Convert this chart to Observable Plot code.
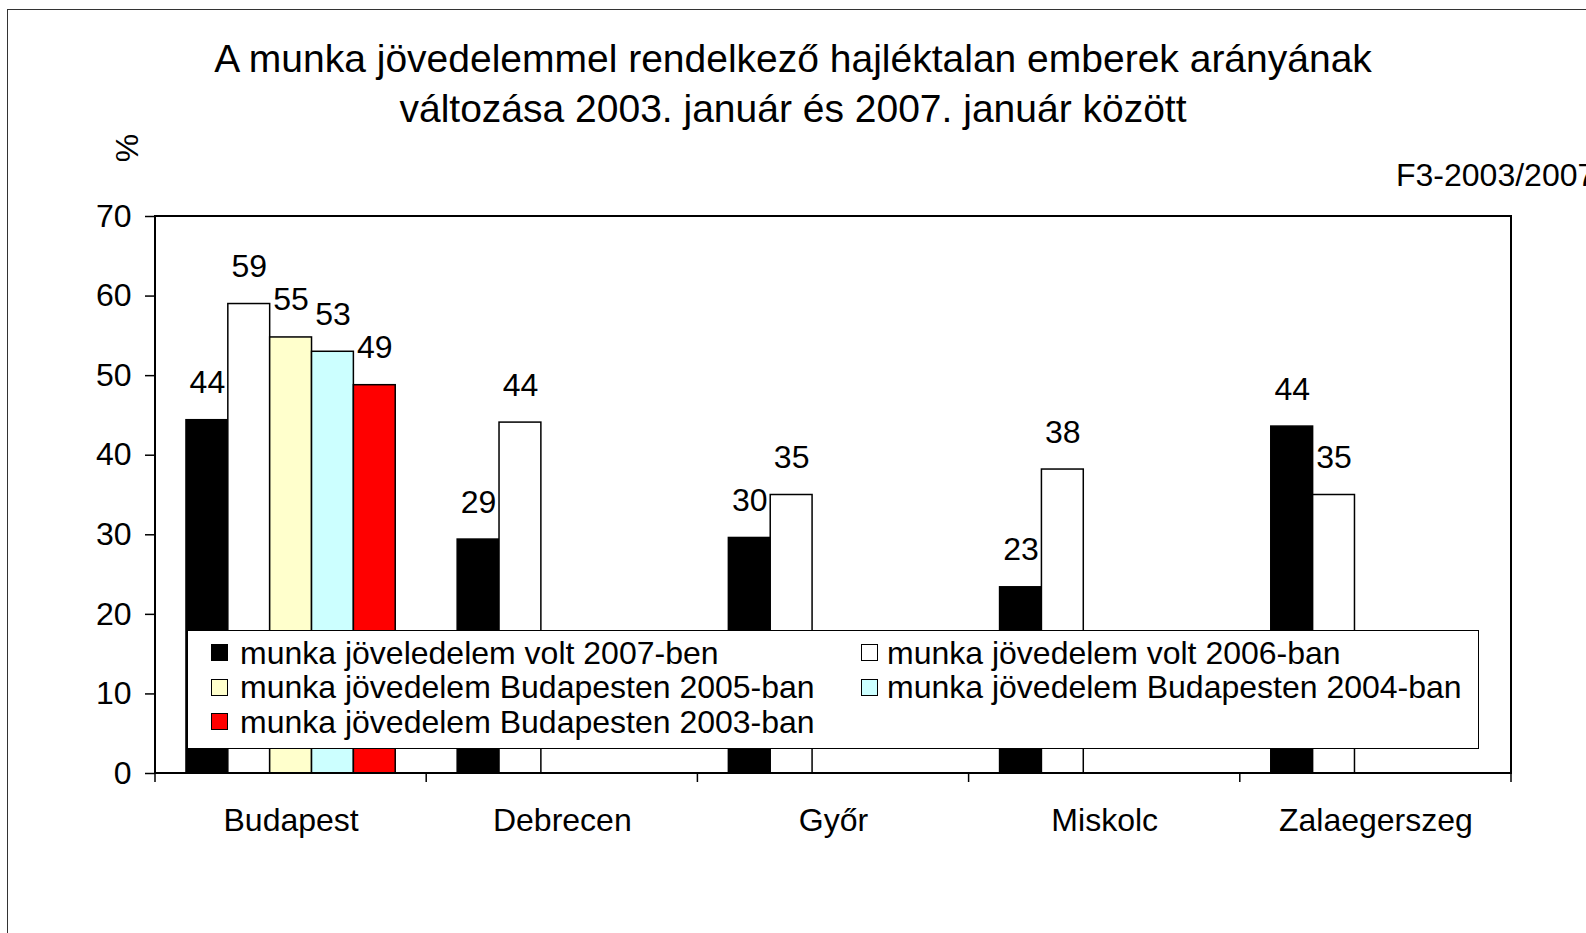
<!DOCTYPE html>
<html><head><meta charset="utf-8">
<script src="https://cdn.jsdelivr.net/npm/d3@7"></script>
<script src="https://cdn.jsdelivr.net/npm/@observablehq/plot@0.6"></script>
<style>
html,body{margin:0;padding:0;background:#fff;overflow:hidden;}
#wrap{position:relative;width:1586px;height:933px;overflow:hidden;font-family:"Liberation Sans",Arial,sans-serif;color:#000;}
.abs{position:absolute;white-space:nowrap;}
</style></head><body><div id="wrap"></div>
<script>
const titleLines = ["A munka jövedelemmel rendelkező hajléktalan emberek arányának",
                    "változása 2003. január és 2007. január között"];
const yLabel = "%";
const codeLabel = "F3-2003/2007";
const cities = ["Budapest", "Debrecen", "Győr", "Miskolc", "Zalaegerszeg"];
const series = ["munka jöveledelem volt 2007-ben",
                "munka jövedelem volt 2006-ban",
                "munka jövedelem Budapesten 2005-ban",
                "munka jövedelem Budapesten 2004-ban",
                "munka jövedelem Budapesten 2003-ban"];
const colors = ["#000000", "#ffffff", "#ffffcc", "#ccffff", "#ff0000"];
const v2007 = [44.4, 29.4, 29.6, 23.4, 43.6];
const v2006 = [59.0, 44.1, 35.0, 38.2, 35.0];
const v2005 = [54.8, null, null, null, null];
const v2004 = [53.0, null, null, null, null];
const v2003 = [48.8, null, null, null, null];
const yTicks = [0, 10, 20, 30, 40, 50, 60, 70];

const valueSets = [v2007, v2006, v2005, v2004, v2003];
const rows = [];
cities.forEach((c, ci) => valueSets.forEach((vs, si) => {
  if (vs[ci] != null) rows.push({city: c, series: series[si], value: vs[ci]});
}));
const fmt = d3.format(".0f");
const FONT = '"Liberation Sans", Arial, sans-serif';

const wrap = d3.select("#wrap");

const plot = Plot.plot({
  width: 1586, height: 933,
  marginLeft: 155, marginRight: 75, marginTop: 216, marginBottom: 160,
  style: {fontFamily: FONT, fontSize: "32px", background: "transparent", color: "#000", overflow: "visible"},
  fx: {domain: cities, padding: 0, round: false, label: null},
  x: {domain: series, paddingInner: 0, paddingOuter: 0.74, round: false, axis: null},
  y: {domain: [0, 70], label: null, axis: null},
  color: {domain: series, range: colors},
  marks: [
    Plot.axisY(yTicks, {tickSize: 10, tickPadding: 14, label: null, stroke: "#000", strokeWidth: 1.5}),
    Plot.axisFx({anchor: "bottom", tickSize: 0, tickPadding: 35, label: null}),
    Plot.barY(rows, {fx: "city", x: "series", y: "value", fill: "series", stroke: "#000", strokeWidth: 1.5}),
    Plot.text(rows, {fx: "city", x: "series", y: "value", text: d => fmt(d.value), lineAnchor: "bottom", dy: -27, fontSize: 32})
  ]
});
d3.select(plot).style("position", "absolute").style("left", "0px").style("top", "0px");
wrap.node().appendChild(plot);

// plot frame and category boundary ticks, from the library's scales
const fxS = plot.scale("fx"), yS = plot.scale("y");
const svg = d3.select(plot);
const x0 = fxS.apply(cities[0]);
const x1 = fxS.apply(cities[cities.length - 1]) + fxS.bandwidth;
const yTop = yS.apply(70), yBot = yS.apply(0);
svg.append("rect").attr("x", x0).attr("y", yTop).attr("width", x1 - x0).attr("height", yBot - yTop)
  .attr("fill", "none").attr("stroke", "#000").attr("stroke-width", 2);
const bounds = cities.map(c => fxS.apply(c)).concat([x1]);
svg.append("g").selectAll("line").data(bounds).join("line")
  .attr("x1", d => d).attr("x2", d => d).attr("y1", yBot).attr("y2", yBot + 9)
  .attr("stroke", "#000").attr("stroke-width", 1.5);

// outer border
wrap.append("div").attr("class", "abs")
  .style("left", "7px").style("top", "9px").style("width", "1700px").style("height", "1000px")
  .style("border", "1.5px solid #333").style("pointer-events", "none");

// title (line-height = font-size; baseline = top + 0.8465*fs)
const tfs = 39;
titleLines.forEach((t, i) => {
  wrap.append("div").attr("class", "abs").text(t)
    .style("left", "0px").style("width", "1586px").style("text-align", "center")
    .style("font-size", tfs + "px").style("line-height", tfs + "px")
    .style("top", ([71.7, 122.5][i] - 0.8465 * tfs) + "px");
});

// % label rotated
wrap.append("div").attr("class", "abs").text(yLabel)
  .style("left", "107px").style("top", "132px").style("width", "40px").style("height", "32px")
  .style("text-align", "center").style("font-size", "32px").style("line-height", "32px")
  .style("transform", "rotate(-90deg)");

// code label
wrap.append("div").attr("class", "abs").text(codeLabel)
  .style("left", "1396px").style("top", (186 - 0.8465 * 32) + "px")
  .style("font-size", "32px").style("line-height", "32px");

// legend
const leg = wrap.append("div").attr("class", "abs")
  .style("left", "187px").style("top", "630px").style("width", "1290px").style("height", "117px")
  .style("background", "#fff").style("border", "1.5px solid #000");
const rowBase = [33, 67.5, 102];
const colSw = [23, 673], colTx = [52, 699];
series.forEach((s, i) => {
  const col = i % 2, row = Math.floor(i / 2);
  leg.append("div").attr("class", "abs")
    .style("left", colSw[col] + "px").style("top", (rowBase[row] - 20) + "px")
    .style("width", "15px").style("height", "15px").style("background", colors[i])
    .style("border", "1.5px solid #000");
  leg.append("div").attr("class", "abs").text(s)
    .style("left", colTx[col] + "px").style("top", (rowBase[row] - 0.8465 * 32) + "px")
    .style("font-size", "32px").style("line-height", "32px");
});
</script></body></html>
